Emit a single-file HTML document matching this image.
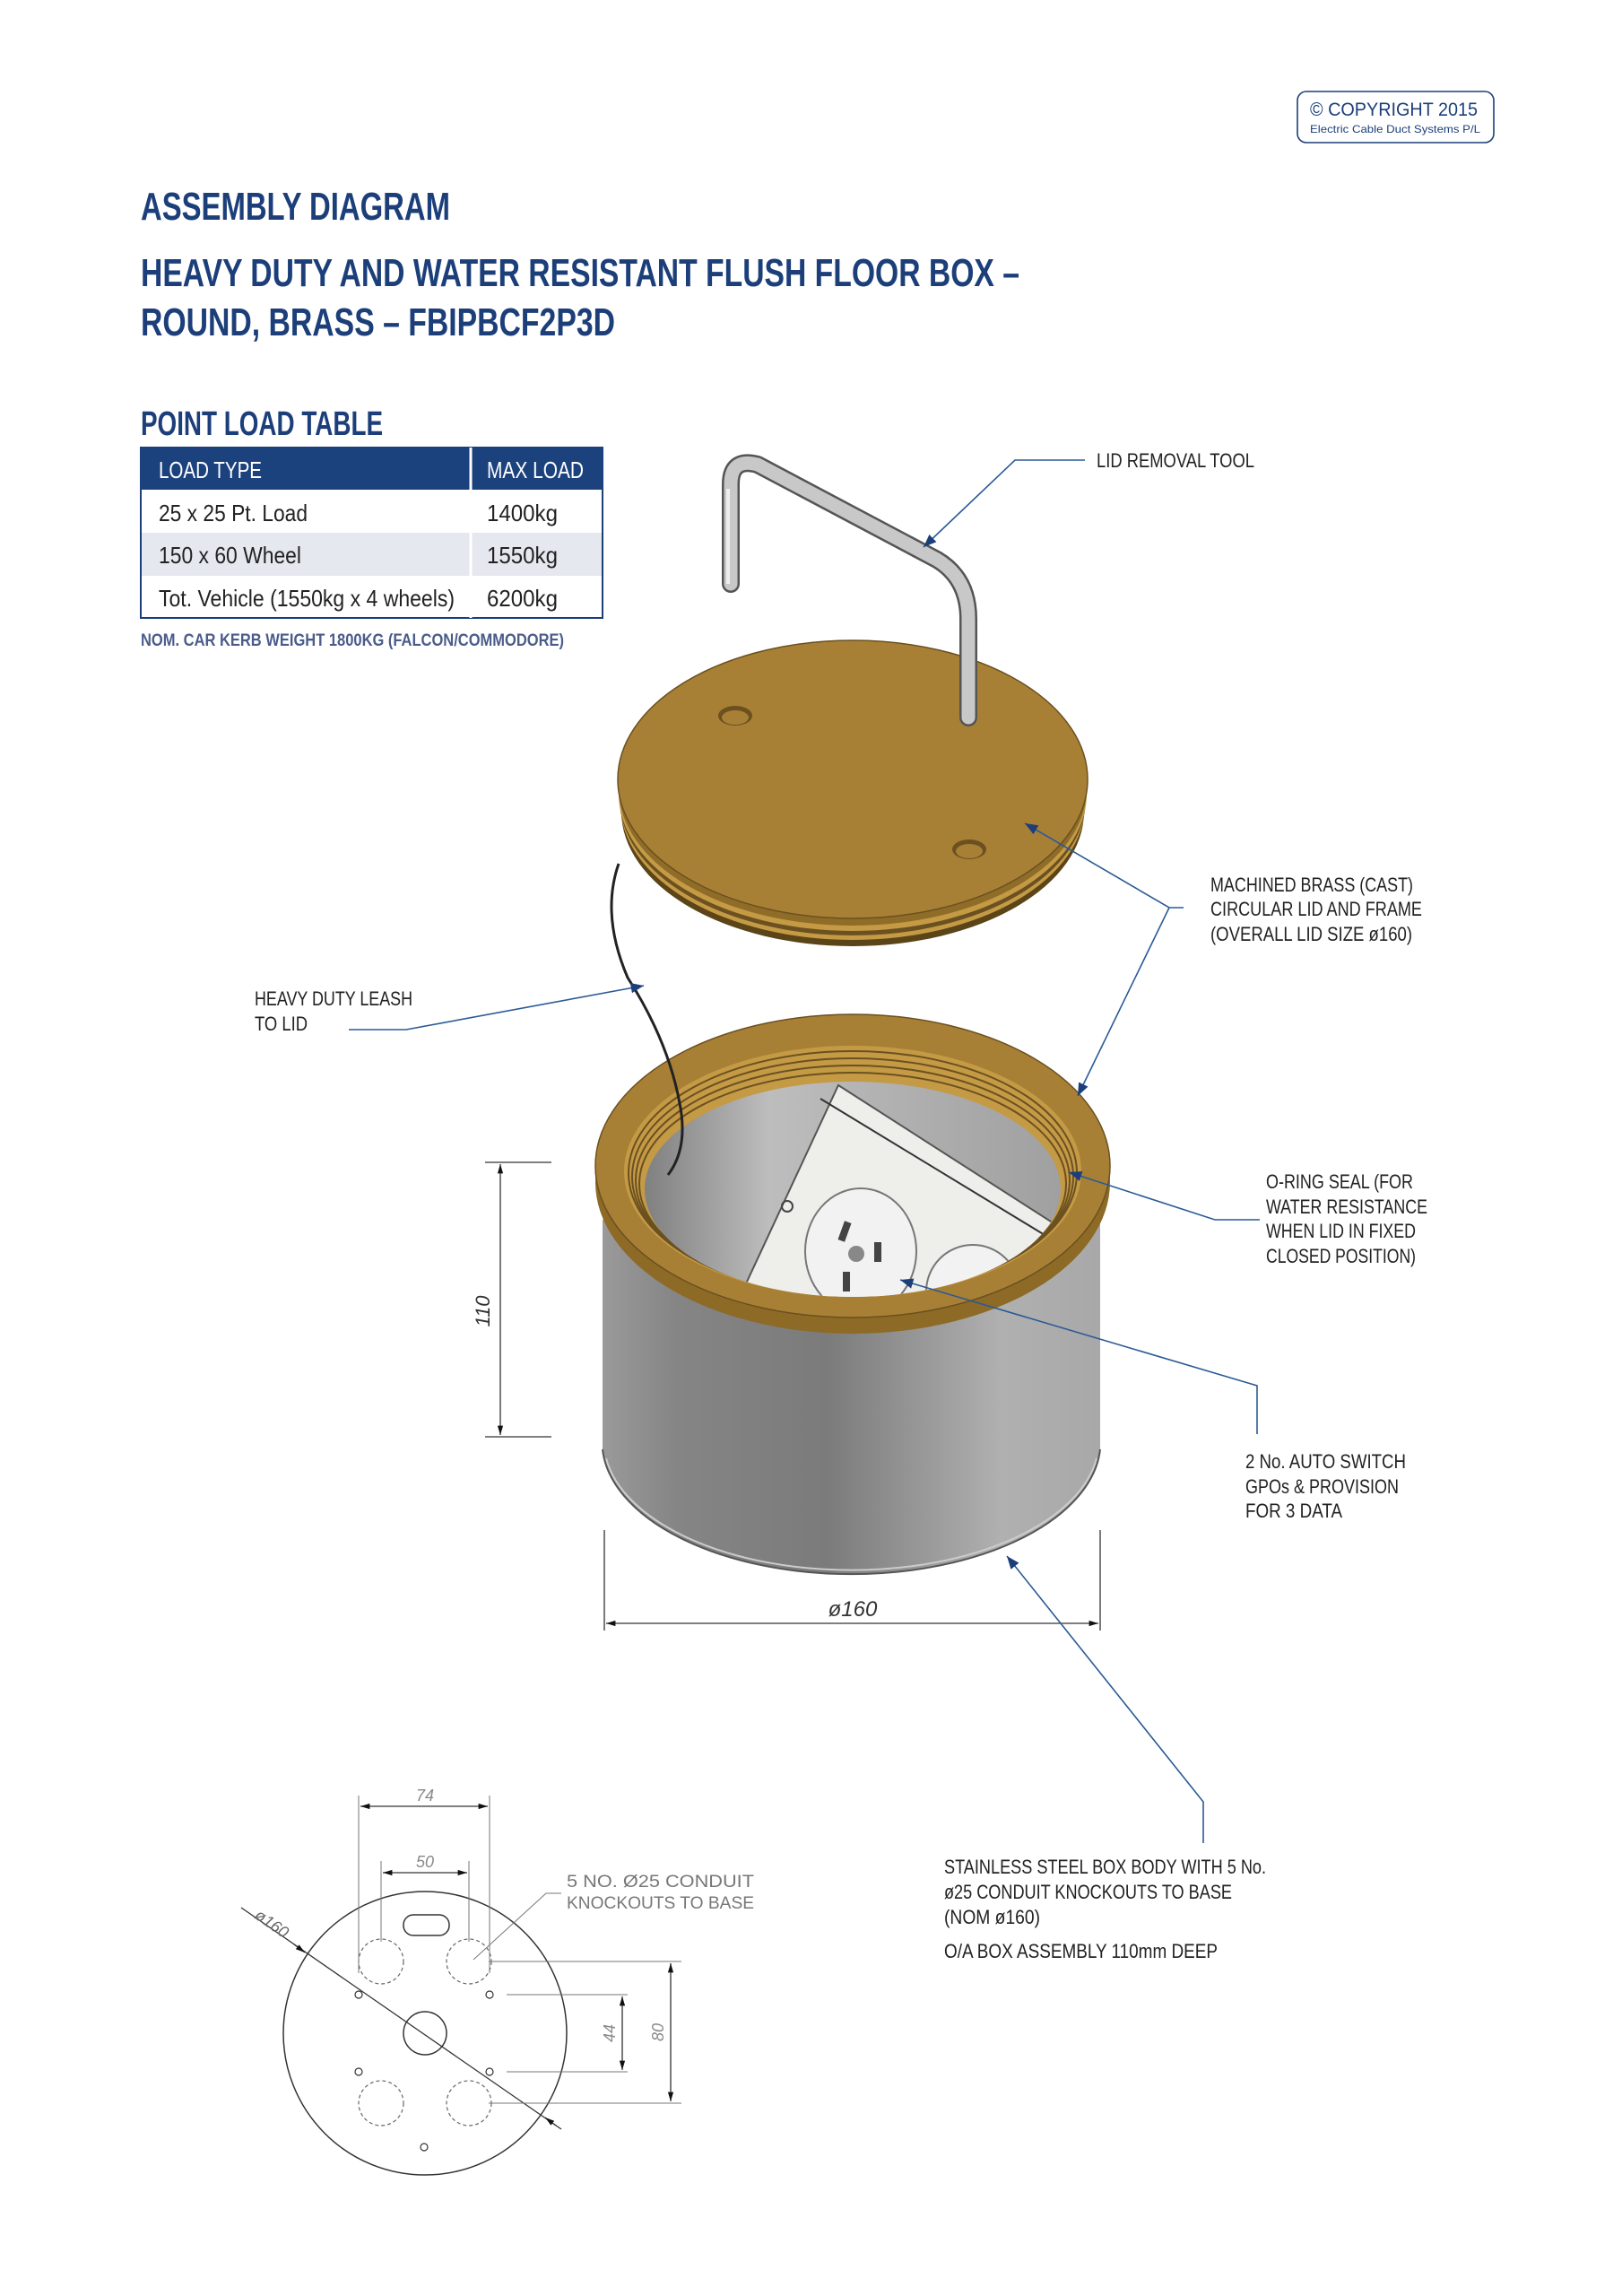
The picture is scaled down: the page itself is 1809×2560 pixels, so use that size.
<!DOCTYPE html>
<html><head><meta charset="utf-8"><style>
html,body{margin:0;padding:0;background:#fff}
svg{display:block}
text{font-family:"Liberation Sans Narrow","Liberation Sans",sans-serif}
.lb{font-size:22px;fill:#222}
.ld{stroke:#2b5a96;stroke-width:1.6;fill:none}
.dm{stroke:#333;stroke-width:1.3;fill:none}
.th{stroke:#777;stroke-width:1;fill:none}
</style></head><body>
<svg width="1809" height="2560" viewBox="0 0 1809 2560" xmlns="http://www.w3.org/2000/svg">
<defs>
<marker id="ar" viewBox="0 0 10 10" refX="10" refY="5" markerWidth="9" markerHeight="9" orient="auto-start-reverse"><path d="M0,1 L10,5 L0,9 z" fill="#1c3f7a"/></marker>
<marker id="ak" viewBox="0 0 10 10" refX="10" refY="5" markerWidth="8" markerHeight="8" orient="auto-start-reverse"><path d="M0,2 L10,5 L0,8 z" fill="#111"/></marker>
<linearGradient id="body" x1="0" x2="1"><stop offset="0" stop-color="#9a9a9a"/><stop offset=".15" stop-color="#858585"/><stop offset=".45" stop-color="#7b7b7b"/><stop offset=".8" stop-color="#b0b0b0"/><stop offset="1" stop-color="#a8a8a8"/></linearGradient>
<linearGradient id="inner" x1="0" x2="1"><stop offset="0" stop-color="#808080"/><stop offset=".3" stop-color="#bdbdbd"/><stop offset="1" stop-color="#a0a0a0"/></linearGradient>
</defs>

<!-- copyright -->
<rect x="1447" y="102" width="219" height="57" rx="10" fill="none" stroke="#1c3f7a" stroke-width="1.6"/>
<text x="1461" y="129" font-size="21" fill="#1c3f7a" textLength="187" lengthAdjust="spacingAndGlyphs">© COPYRIGHT 2015</text>
<text x="1461" y="148" font-size="12" fill="#1c3f7a" textLength="190" lengthAdjust="spacingAndGlyphs">Electric Cable Duct Systems P/L</text>

<!-- titles -->
<text x="157" y="245" font-size="44" font-weight="bold" fill="#1c3f7a" textLength="345" lengthAdjust="spacingAndGlyphs">ASSEMBLY DIAGRAM</text>
<text x="157" y="319" font-size="44" font-weight="bold" fill="#1c3f7a" textLength="980" lengthAdjust="spacingAndGlyphs">HEAVY DUTY AND WATER RESISTANT FLUSH FLOOR BOX –</text>
<text x="157" y="374" font-size="44" font-weight="bold" fill="#1c3f7a" textLength="529" lengthAdjust="spacingAndGlyphs">ROUND, BRASS – FBIPBCF2P3D</text>
<text x="157" y="485" font-size="38" font-weight="bold" fill="#1c3f7a" textLength="270" lengthAdjust="spacingAndGlyphs">POINT LOAD TABLE</text>

<!-- table -->
<rect x="157" y="499" width="515" height="190" fill="#fff" stroke="#1c3f7a" stroke-width="2"/>
<rect x="157" y="499" width="515" height="47" fill="#1c427e"/>
<rect x="158" y="594" width="513" height="48" fill="#e6e8f0"/>
<line x1="525" y1="499" x2="525" y2="689" stroke="#fff" stroke-width="3"/>
<text x="177" y="533" font-size="26" fill="#fff" textLength="115" lengthAdjust="spacingAndGlyphs">LOAD TYPE</text>
<text x="543" y="533" font-size="26" fill="#fff" textLength="108" lengthAdjust="spacingAndGlyphs">MAX LOAD</text>
<text x="177" y="581" font-size="26" fill="#222" textLength="166" lengthAdjust="spacingAndGlyphs">25 x 25 Pt. Load</text>
<text x="543" y="581" font-size="26" fill="#222" textLength="79" lengthAdjust="spacingAndGlyphs">1400kg</text>
<text x="177" y="628" font-size="26" fill="#222" textLength="159" lengthAdjust="spacingAndGlyphs">150 x 60 Wheel</text>
<text x="543" y="628" font-size="26" fill="#222" textLength="79" lengthAdjust="spacingAndGlyphs">1550kg</text>
<text x="177" y="676" font-size="26" fill="#222" textLength="330" lengthAdjust="spacingAndGlyphs">Tot. Vehicle (1550kg x 4 wheels)</text>
<text x="543" y="676" font-size="26" fill="#222" textLength="79" lengthAdjust="spacingAndGlyphs">6200kg</text>
<text x="157" y="720" font-size="19" fill="#4a5c8a" font-weight="bold" textLength="472" lengthAdjust="spacingAndGlyphs">NOM. CAR KERB WEIGHT 1800KG (FALCON/COMMODORE)</text>

<!-- lid -->
<ellipse cx="951" cy="905" rx="258" ry="150" fill="#5a4418"/>
<ellipse cx="951" cy="897" rx="259" ry="151" fill="#c49a45"/>
<ellipse cx="951" cy="891" rx="260" ry="152" fill="#6b5020"/>
<ellipse cx="951" cy="885" rx="261" ry="153" fill="#c49a45"/>
<ellipse cx="951" cy="879" rx="261" ry="153" fill="#8f6d28"/>
<ellipse cx="951" cy="869" rx="262" ry="155" fill="#a88035" stroke="#6b5020" stroke-width="1.5"/>
<ellipse cx="820" cy="798" rx="19" ry="11" fill="#6b5020"/><ellipse cx="820" cy="800" rx="15" ry="8" fill="#a88035"/>
<ellipse cx="1081" cy="947" rx="19" ry="11" fill="#6b5020"/><ellipse cx="1081" cy="949" rx="15" ry="8" fill="#a88035"/>

<!-- tool -->
<path d="M815,651 L815,540 Q815,510 845,518 L1045,624 Q1080,645 1080,690 L1080,800" fill="none" stroke="#555" stroke-width="20" stroke-linecap="round" stroke-linejoin="round"/>
<path d="M815,651 L815,540 Q815,510 845,518 L1045,624 Q1080,645 1080,690 L1080,800" fill="none" stroke="#c8c8c8" stroke-width="15" stroke-linecap="round" stroke-linejoin="round"/>
<path d="M812,651 L812,545" stroke="#eee" stroke-width="4"/>

<!-- box body -->
<path d="M672,1360 L672,1616 A278,148 0 0 0 1227,1616 L1227,1360 Z" fill="url(#body)"/>
<path d="M672,1616 A278,148 0 0 0 1227,1616" fill="none" stroke="#555" stroke-width="2"/>
<path d="M676,1626 A276,144 0 0 0 1223,1626" fill="none" stroke="#ccc" stroke-width="2"/>
<!-- rim -->
<ellipse cx="951" cy="1318" rx="287" ry="169" fill="#8d6a26"/>
<ellipse cx="951" cy="1300" rx="287" ry="169" fill="#a88035" stroke="#6b5020" stroke-width="1.5"/>
<ellipse cx="951" cy="1306" rx="255" ry="140" fill="#c49a45"/>
<ellipse cx="951" cy="1308" rx="250" ry="136" fill="none" stroke="#6b5020" stroke-width="2"/>
<ellipse cx="951" cy="1312" rx="246" ry="132" fill="none" stroke="#6b5020" stroke-width="2"/>
<ellipse cx="951" cy="1316" rx="242" ry="128" fill="none" stroke="#6b5020" stroke-width="2"/>
<ellipse cx="951" cy="1320" rx="238" ry="124" fill="none" stroke="#6b5020" stroke-width="2"/>
<ellipse cx="951" cy="1326" rx="232" ry="120" fill="url(#inner)"/>
<!-- inner plate -->
<clipPath id="ic"><ellipse cx="951" cy="1326" rx="232" ry="120"/></clipPath>
<g clip-path="url(#ic)">
<path d="M935,1210 L1200,1380 L1150,1500 L800,1500 Z" fill="#eeeeea" stroke="#555" stroke-width="2"/>
<path d="M915,1225 L1170,1380" stroke="#333" stroke-width="2"/>
<ellipse cx="960" cy="1395" rx="62" ry="70" fill="#f2f2f2" stroke="#777" stroke-width="2"/>
<ellipse cx="1085" cy="1440" rx="52" ry="52" fill="#f2f2f2" stroke="#777" stroke-width="2"/>
<rect x="938" y="1362" width="8" height="22" fill="#444" transform="rotate(20 942 1373)"/>
<rect x="975" y="1385" width="8" height="22" fill="#444"/>
<circle cx="955" cy="1398" r="9" fill="#888"/>
<rect x="940" y="1418" width="8" height="22" fill="#444"/>
<circle cx="878" cy="1345" r="6" fill="none" stroke="#444" stroke-width="2"/>
</g>

<!-- leash (on top) -->
<path d="M690,963 Q670,1020 700,1090 Q745,1160 758,1230 Q768,1280 745,1310" fill="none" stroke="#222" stroke-width="3"/>

<!-- dimension 110 -->
<line class="dm" x1="541" y1="1296" x2="615" y2="1296"/>
<line class="dm" x1="541" y1="1602" x2="615" y2="1602"/>
<line class="dm" x1="558" y1="1298" x2="558" y2="1600" marker-start="url(#ak)" marker-end="url(#ak)"/>
<text x="0" y="0" font-size="22" font-style="italic" fill="#333" transform="translate(546,1462) rotate(-90)" text-anchor="middle">110</text>
<!-- dimension 160 -->
<line class="dm" x1="674" y1="1706" x2="674" y2="1818"/>
<line class="dm" x1="1227" y1="1706" x2="1227" y2="1818"/>
<line class="dm" x1="676" y1="1810" x2="1225" y2="1810" marker-start="url(#ak)" marker-end="url(#ak)"/>
<text x="951" y="1802" font-size="24" font-style="italic" fill="#333" text-anchor="middle">ø160</text>

<!-- leaders & labels -->
<polyline class="ld" points="1210,513 1132,513 1030,610" marker-end="url(#ar)"/>
<text class="lb" x="1223" y="521" textLength="176" lengthAdjust="spacingAndGlyphs">LID REMOVAL TOOL</text>

<polyline class="ld" points="1320,1012 1304,1012 1143,918" marker-end="url(#ar)"/>
<polyline class="ld" points="1304,1012 1202,1222" marker-end="url(#ar)"/>
<text class="lb" x="1350" y="994" textLength="226" lengthAdjust="spacingAndGlyphs">MACHINED BRASS (CAST)</text>
<text class="lb" x="1350" y="1021" textLength="236" lengthAdjust="spacingAndGlyphs">CIRCULAR LID AND FRAME</text>
<text class="lb" x="1350" y="1049" textLength="225" lengthAdjust="spacingAndGlyphs">(OVERALL LID SIZE ø160)</text>

<polyline class="ld" points="389,1148 453,1148 718,1099" marker-end="url(#ar)"/>
<text class="lb" x="284" y="1121" textLength="176" lengthAdjust="spacingAndGlyphs">HEAVY DUTY LEASH</text>
<text class="lb" x="284" y="1149" textLength="59" lengthAdjust="spacingAndGlyphs">TO LID</text>

<polyline class="ld" points="1405,1360 1355,1360 1192,1307" marker-end="url(#ar)"/>
<text class="lb" x="1412" y="1325" textLength="164" lengthAdjust="spacingAndGlyphs">O-RING SEAL (FOR</text>
<text class="lb" x="1412" y="1353" textLength="180" lengthAdjust="spacingAndGlyphs">WATER RESISTANCE</text>
<text class="lb" x="1412" y="1380" textLength="167" lengthAdjust="spacingAndGlyphs">WHEN LID IN FIXED</text>
<text class="lb" x="1412" y="1408" textLength="167" lengthAdjust="spacingAndGlyphs">CLOSED POSITION)</text>

<polyline class="ld" points="1402,1599 1402,1545 1004,1427" marker-end="url(#ar)"/>
<text class="lb" x="1389" y="1637" textLength="179" lengthAdjust="spacingAndGlyphs">2 No. AUTO SWITCH</text>
<text class="lb" x="1389" y="1665" textLength="171" lengthAdjust="spacingAndGlyphs">GPOs &amp; PROVISION</text>
<text class="lb" x="1389" y="1692" textLength="108" lengthAdjust="spacingAndGlyphs">FOR 3 DATA</text>

<polyline class="ld" points="1342,2055 1342,2009 1123,1735" marker-end="url(#ar)"/>
<text class="lb" x="1053" y="2089" textLength="359" lengthAdjust="spacingAndGlyphs">STAINLESS STEEL BOX BODY WITH 5 No.</text>
<text class="lb" x="1053" y="2117" textLength="321" lengthAdjust="spacingAndGlyphs">ø25 CONDUIT KNOCKOUTS TO BASE</text>
<text class="lb" x="1053" y="2145" textLength="107" lengthAdjust="spacingAndGlyphs">(NOM ø160)</text>
<text class="lb" x="1053" y="2183" textLength="305" lengthAdjust="spacingAndGlyphs">O/A BOX ASSEMBLY 110mm DEEP</text>

<!-- base plate -->
<circle cx="474" cy="2267" r="158" fill="none" stroke="#333" stroke-width="1.5"/>
<circle cx="474" cy="2267" r="24" fill="none" stroke="#333" stroke-width="1.5"/>
<rect x="450" y="2135" width="51" height="23" rx="11" fill="none" stroke="#333" stroke-width="1.5"/>
<g fill="none" stroke="#666" stroke-width="1.2" stroke-dasharray="4,3">
<circle cx="425" cy="2187" r="25"/><circle cx="523" cy="2187" r="25"/>
<circle cx="425" cy="2345" r="25"/><circle cx="523" cy="2345" r="25"/>
</g>
<g fill="none" stroke="#333" stroke-width="1.2">
<circle cx="400" cy="2224" r="4"/><circle cx="546" cy="2224" r="4"/>
<circle cx="400" cy="2310" r="4"/><circle cx="546" cy="2310" r="4"/>
<circle cx="473" cy="2394" r="4"/>
</g>
<line class="dm" x1="269" y1="2127" x2="626" y2="2374"/>
<line class="dm" x1="328" y1="2168" x2="340" y2="2177" marker-end="url(#ak)"/>
<line class="dm" x1="620" y1="2370" x2="608" y2="2361" marker-end="url(#ak)"/>
<text font-size="18" font-style="italic" fill="#666" transform="translate(283,2138) rotate(35)">ø160</text>
<!-- 74 -->
<line class="th" x1="400" y1="2002" x2="400" y2="2200"/>
<line class="th" x1="546" y1="2002" x2="546" y2="2200"/>
<line class="dm" x1="402" y1="2014" x2="544" y2="2014" marker-start="url(#ak)" marker-end="url(#ak)"/>
<text x="474" y="2008" font-size="18" font-style="italic" fill="#888" text-anchor="middle">74</text>
<!-- 50 -->
<line class="th" x1="425" y1="2075" x2="425" y2="2165"/>
<line class="th" x1="523" y1="2075" x2="523" y2="2165"/>
<line class="dm" x1="427" y1="2088" x2="521" y2="2088" marker-start="url(#ak)" marker-end="url(#ak)"/>
<text x="474" y="2082" font-size="18" font-style="italic" fill="#888" text-anchor="middle">50</text>
<!-- 80 / 44 -->
<line class="th" x1="545" y1="2187" x2="760" y2="2187"/>
<line class="th" x1="545" y1="2345" x2="760" y2="2345"/>
<line class="dm" x1="748" y1="2189" x2="748" y2="2343" marker-start="url(#ak)" marker-end="url(#ak)"/>
<text font-size="18" font-style="italic" fill="#888" transform="translate(740,2266) rotate(-90)" text-anchor="middle">80</text>
<line class="th" x1="565" y1="2224" x2="700" y2="2224"/>
<line class="th" x1="565" y1="2310" x2="700" y2="2310"/>
<line class="dm" x1="694" y1="2226" x2="694" y2="2308" marker-start="url(#ak)" marker-end="url(#ak)"/>
<text font-size="18" font-style="italic" fill="#888" transform="translate(686,2267) rotate(-90)" text-anchor="middle">44</text>
<polyline class="th" points="626,2111 609,2111 528,2185"/>
<text x="632" y="2104" font-size="19" fill="#777" textLength="209" lengthAdjust="spacingAndGlyphs">5 NO. Ø25 CONDUIT</text>
<text x="632" y="2128" font-size="19" fill="#777" textLength="209" lengthAdjust="spacingAndGlyphs">KNOCKOUTS TO BASE</text>
</svg>
</body></html>
